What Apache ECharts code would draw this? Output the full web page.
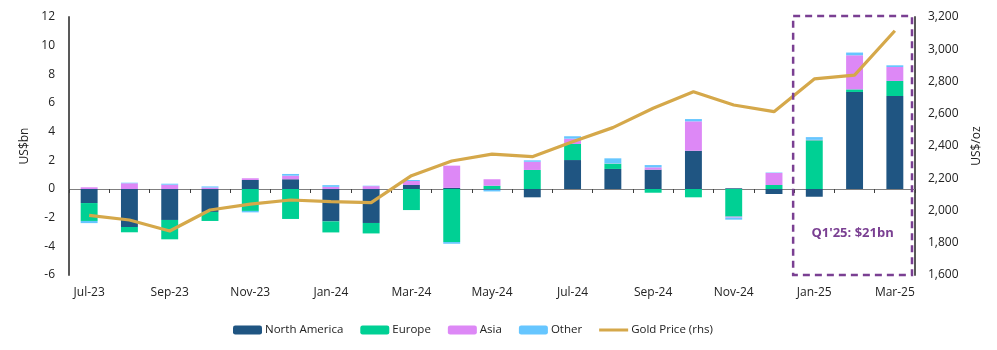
<!DOCTYPE html>
<html><head><meta charset="utf-8">
<script src="https://cdn.jsdelivr.net/npm/echarts@6/dist/echarts.min.js"></script>
<style>html,body{margin:0;padding:0;background:#fff}#c{width:997px;height:350px}</style>
</head><body><div id="c"></div>
<script>
const categories = ['Jul-23','Aug-23','Sep-23','Oct-23','Nov-23','Dec-23','Jan-24','Feb-24','Mar-24','Apr-24','May-24','Jun-24','Jul-24','Aug-24','Sep-24','Oct-24','Nov-24','Dec-24','Jan-25','Feb-25','Mar-25'];
const northAmerica = [-0.98,-2.65,-2.16,-1.6,0.63,0.68,-2.26,-2.37,0.28,0.08,-0.05,-0.58,2.02,1.4,1.35,2.67,0.05,-0.35,-0.54,6.77,6.49];
const europe = [-1.25,-0.37,-1.35,-0.63,-1.53,-2.09,-0.77,-0.73,-1.47,-3.7,0.23,1.33,1.12,0.37,-0.26,-0.58,-1.93,0.28,3.4,0.18,1.05];
const asia = [0.12,0.4,0.3,0.1,0.12,0.25,0.15,0.2,0.28,1.55,0.45,0.57,0.37,0.02,0.16,2.05,-0.07,0.84,0.03,2.38,0.97];
const other = [-0.15,0.04,0.07,0.08,-0.1,0.12,0.12,0.03,0.07,-0.12,-0.12,0.1,0.17,0.35,0.16,0.16,-0.14,0.03,0.19,0.19,0.12];
const goldPrice = [1970,1941,1873,2003,2040,2065,2055,2049,2216,2307,2350,2334,2427,2514,2634,2737,2654,2613,2816,2840,3115];
const leftTicks = {min:-6, max:12, interval:2};
const rightTicks = {min:1600, max:3200, interval:200};
const boxFrom = 'Jan-25', boxTo = 'Mar-25';
const boxLabel = "Q1'25: $21bn";

const font = '"Open Sans", "Noto Sans", sans-serif';
const colors = {na:'#1F5582', eu:'#00D094', asia:'#DD88F6', other:'#66C6FF', gold:'#D5A84A', purple:'#7A3F92'};
const lineIcon = 'path://M0,0L29,0L29,0.05L0,0.05Z M0,3L29,3L29,6L0,6Z M0,8.95L29,8.95L29,9L0,9Z';
const chart = echarts.init(document.getElementById('c'));
function bar(name, data, color){
  return {name, type:'bar', stack:'total', data, xAxisIndex:0, yAxisIndex:0, barWidth:'42%',
    itemStyle:{color}, emphasis:{disabled:true}};
}
chart.setOption({
  animation:false,
  textStyle:{fontFamily:font},
  grid:{left:69, right:82, top:17, bottom:75},
  legend:{top:319, left:228, itemWidth:29, itemHeight:9, itemGap:17,
    textStyle:{fontFamily:font, fontSize:11.5, color:'#222', padding:[0,0,0,-2]},
    data:[{name:'North America'},{name:'Europe'},{name:'Asia'},{name:'Other'},
          {name:'Gold Price (rhs)', icon:lineIcon, itemStyle:{color:colors.gold, opacity:1}}]},
  xAxis:[
    {type:'category', data:categories, position:'bottom',
     axisLine:{onZero:true, lineStyle:{color:'#7f7f7f', width:1}},
     axisTick:{show:true, interval:0, length:4, lineStyle:{color:'#404040'}},
     axisLabel:{show:false}},
    {type:'category', data:categories, position:'bottom', gridIndex:0,
     axisLine:{show:false, onZero:false}, axisTick:{show:false},
     axisLabel:{interval:1, fontFamily:font, fontSize:12, color:'#222', margin:12}}
  ],
  yAxis:[
    {type:'value', min:leftTicks.min, max:leftTicks.max, interval:leftTicks.interval,
     name:'US$bn', nameLocation:'middle', nameGap:35, nameRotate:90,
     nameTextStyle:{fontFamily:font, fontSize:12, color:'#222'},
     axisLine:{show:true, onZero:false, lineStyle:{color:'#595959', width:2}},
     axisTick:{show:false}, splitLine:{show:false},
     axisLabel:{fontFamily:font, fontSize:12, color:'#222', margin:14}},
    {type:'value', min:rightTicks.min, max:rightTicks.max, interval:rightTicks.interval,
     name:'US$/oz', nameLocation:'middle', nameGap:56, nameRotate:90,
     nameTextStyle:{fontFamily:font, fontSize:12, color:'#222'},
     axisLine:{show:true, onZero:false, lineStyle:{color:'#595959', width:2}},
     axisTick:{show:false}, splitLine:{show:false},
     axisLabel:{fontFamily:font, fontSize:12, color:'#222', margin:13,
       formatter:v=>v.toLocaleString('en-US')}}
  ],
  series:[
    bar('North America', northAmerica, colors.na),
    bar('Europe', europe, colors.eu),
    bar('Asia', asia, colors.asia),
    bar('Other', other, colors.other),
    {name:'Gold Price (rhs)', type:'line', data:goldPrice, xAxisIndex:0, yAxisIndex:1,
     symbol:'none', showSymbol:false, z:5, itemStyle:{color:colors.gold},
     lineStyle:{color:colors.gold, width:3.2}}
  ]
});
// Dashed highlight box positioned from axis scales
const xa = chart.convertToPixel({xAxisIndex:0}, boxFrom);
const xb = chart.convertToPixel({xAxisIndex:0}, boxTo);
const step = chart.convertToPixel({xAxisIndex:0}, categories[1]) - chart.convertToPixel({xAxisIndex:0}, categories[0]);
const x0 = xa - step/2 - 1, x1 = xb + step/2 - 3;
const y0 = chart.convertToPixel({yAxisIndex:0}, leftTicks.max) - 1;
const y1 = chart.convertToPixel({yAxisIndex:0}, leftTicks.min);
const ty = chart.convertToPixel({yAxisIndex:0}, -3.1);
chart.setOption({graphic:[
  {type:'rect', shape:{x:x0, y:y0, width:x1-x0, height:y1-y0}, z:10,
   style:{fill:'none', stroke:colors.purple, lineWidth:2.5, lineDash:[7,5]}},
  {type:'text', x:(x0+x1)/2, y:ty, z:10,
   style:{text:boxLabel, fill:colors.purple, font:'bold 13px ' + font, align:'center', verticalAlign:'middle'}}
]});
</script></body></html>
